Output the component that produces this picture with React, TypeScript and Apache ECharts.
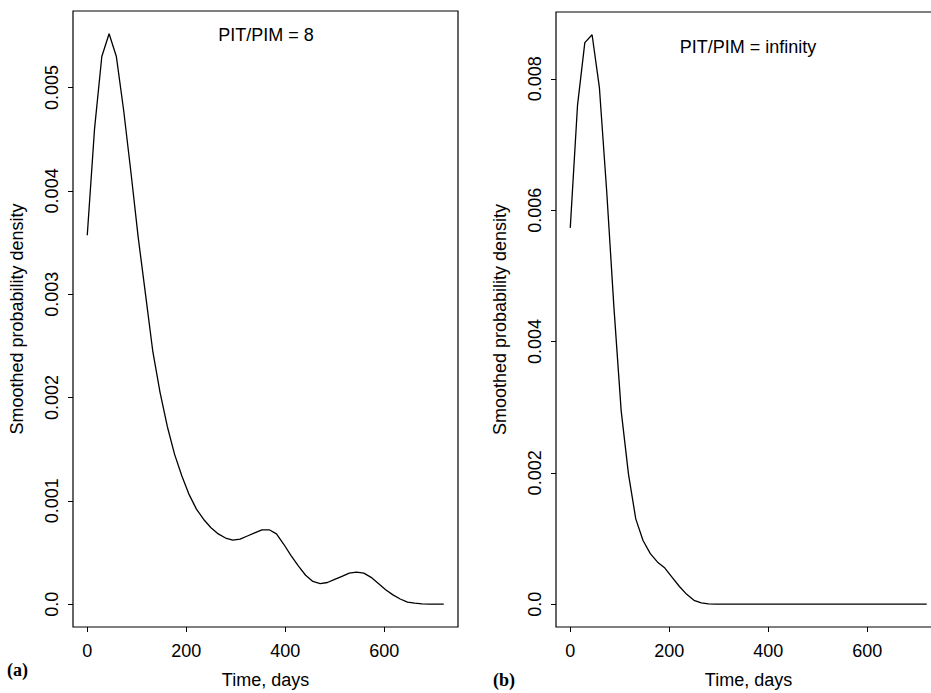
import React, { useEffect, useRef } from "react";
import * as echarts from "echarts";

// Evaluation grid (days), 50 points from 0 to 720
const timeDays: number[] = [
  0, 14.7, 29.4, 44.1, 58.8, 73.5, 88.2, 102.9, 117.6, 132.3,
  147, 161.7, 176.4, 191.1, 205.8, 220.5, 235.2, 249.9, 264.6, 279.3,
  294, 308.7, 323.4, 338.1, 352.8, 367.5, 382.2, 396.9, 411.6, 426.3,
  441, 455.7, 470.4, 485.1, 499.8, 514.5, 529.2, 543.9, 558.6, 573.3,
  588, 602.7, 617.4, 632.1, 646.8, 661.5, 676.2, 690.9, 705.6, 720,
];

// Panel (a): PIT/PIM = 8
const densityA: number[] = [
  0.00357, 0.0046, 0.0053, 0.00552, 0.0053, 0.00478, 0.00418, 0.00355, 0.003, 0.00245,
  0.00205, 0.00172, 0.00145, 0.00124, 0.00106, 0.00092, 0.00082, 0.00074, 0.00068, 0.00064,
  0.00062, 0.00063, 0.00066, 0.00069, 0.00072, 0.00072, 0.00068, 0.00058, 0.00047, 0.00037,
  0.00028, 0.00022, 0.0002, 0.00021, 0.00024, 0.00027, 0.0003, 0.00031, 0.0003, 0.00026,
  0.0002, 0.00014, 0.00009, 0.00005, 0.00002, 0.00001, 0.000003, 0.000001, 0, 0,
];

// Panel (b): PIT/PIM = infinity
const densityB: number[] = [
  0.00573, 0.0076, 0.00855, 0.00867, 0.00787, 0.0063, 0.00452, 0.00294, 0.00198, 0.0013,
  0.00097, 0.00077, 0.00064, 0.00055, 0.00041, 0.00027, 0.00015, 0.00006, 0.00002, 0.000005,
  0, 0, 0, 0, 0, 0, 0, 0, 0, 0,
  0, 0, 0, 0, 0, 0, 0, 0, 0, 0,
  0, 0, 0, 0, 0, 0, 0, 0, 0, 0,
];

const xTicks: number[] = [0, 200, 400, 600];
const yTicksA: number[] = [0, 0.001, 0.002, 0.003, 0.004, 0.005];
const yTicksB: number[] = [0, 0.002, 0.004, 0.006, 0.008];

const titleA = "PIT/PIM = 8";
const titleB = "PIT/PIM = infinity";
const xName = "Time, days";
const yName = "Smoothed probability density";

const SANS = "'Liberation Sans', Arial, Helvetica, sans-serif";
const SERIF = "'Liberation Serif', 'Times New Roman', serif";

function padRange(vals: number[]): [number, number] {
  const mn = Math.min(...vals);
  const mx = Math.max(...vals);
  const d = (mx - mn) * 0.04;
  return [mn - d, mx + d];
}

function fmtY(v: number): string {
  if (Math.abs(v) < 1e-12) return "0.0";
  return v.toFixed(3);
}

export default function App() {
  const ref = useRef<HTMLDivElement>(null);

  useEffect(() => {
    if (!ref.current) return;
    const chart = echarts.init(ref.current, undefined, { renderer: "svg" });
    const [xMin, xMax] = padRange(timeDays);
    const [yaMin, yaMax] = padRange(densityA);
    const [ybMin, ybMax] = padRange(densityB);

    const axisText = { color: "#000", fontSize: 18, fontFamily: SANS };

    const makeX = (gridIndex: number) => ({
      type: "value",
      gridIndex,
      position: "bottom",
      min: xMin,
      max: xMax,
      name: xName,
      nameLocation: "middle",
      nameGap: 44,
      nameTextStyle: { ...axisText },
      axisLine: { show: false, onZero: false },
      splitLine: { show: false },
      axisTick: {
        show: true,
        length: 5,
        customValues: xTicks,
        lineStyle: { color: "#000", width: 1 },
      },
      axisLabel: {
        ...axisText,
        margin: 15,
        customValues: xTicks,
        formatter: (v: number) => String(Math.round(v)),
      },
    });

    const makeY = (gridIndex: number, mn: number, mx: number, ticks: number[]) => ({
      type: "value",
      gridIndex,
      position: "left",
      min: mn,
      max: mx,
      name: yName,
      nameLocation: "middle",
      nameGap: 47,
      nameRotate: 90,
      nameTextStyle: { ...axisText },
      axisLine: { show: false, onZero: false },
      splitLine: { show: false },
      axisTick: {
        show: true,
        length: 5,
        customValues: ticks,
        lineStyle: { color: "#000", width: 1 },
      },
      axisLabel: {
        ...axisText,
        rotate: 90,
        margin: 12,
        customValues: ticks,
        formatter: (v: number) => fmtY(v),
      },
    });

    const gridBase = {
      show: true,
      borderColor: "#000",
      borderWidth: 1.2,
      backgroundColor: "transparent",
      containLabel: false,
      outerBoundsMode: "none",
    };

    chart.setOption({
      animation: false,
      backgroundColor: "#fff",
      grid: [
        { ...gridBase, left: 73, top: 11, width: 385, height: 616 },
        { ...gridBase, left: 556, top: 12, width: 385, height: 615 },
      ],
      xAxis: [makeX(0), makeX(1)],
      yAxis: [makeY(0, yaMin, yaMax, yTicksA), makeY(1, ybMin, ybMax, yTicksB)],
      series: [
        {
          type: "line",
          xAxisIndex: 0,
          yAxisIndex: 0,
          data: timeDays.map((t, i) => [t, densityA[i]]),
          showSymbol: false,
          smooth: false,
          lineStyle: { color: "#000", width: 1.3 },
        },
        {
          type: "line",
          xAxisIndex: 1,
          yAxisIndex: 1,
          data: timeDays.map((t, i) => [t, densityB[i]]),
          showSymbol: false,
          smooth: false,
          lineStyle: { color: "#000", width: 1.3 },
        },
      ],
      graphic: [
        {
          type: "text",
          x: 266,
          y: 35,
          style: {
            text: titleA,
            fill: "#000",
            font: `18px ${SANS}`,
            textAlign: "center",
            textVerticalAlign: "middle",
          },
        },
        {
          type: "text",
          x: 748,
          y: 46.5,
          style: {
            text: titleB,
            fill: "#000",
            font: `18px ${SANS}`,
            textAlign: "center",
            textVerticalAlign: "middle",
          },
        },
        {
          type: "text",
          x: 7,
          y: 670,
          style: {
            text: "(a)",
            fill: "#000",
            font: `bold 18px ${SERIF}`,
            textAlign: "left",
            textVerticalAlign: "middle",
          },
        },
        {
          type: "text",
          x: 493,
          y: 680,
          style: {
            text: "(b)",
            fill: "#000",
            font: `bold 18px ${SERIF}`,
            textAlign: "left",
            textVerticalAlign: "middle",
          },
        },
      ],
    });

    return () => {
      chart.dispose();
    };
  }, []);

  return (
    <div
      ref={ref}
      style={{ position: "fixed", left: 0, top: 0, width: 931, height: 693, background: "#fff" }}
    />
  );
}
